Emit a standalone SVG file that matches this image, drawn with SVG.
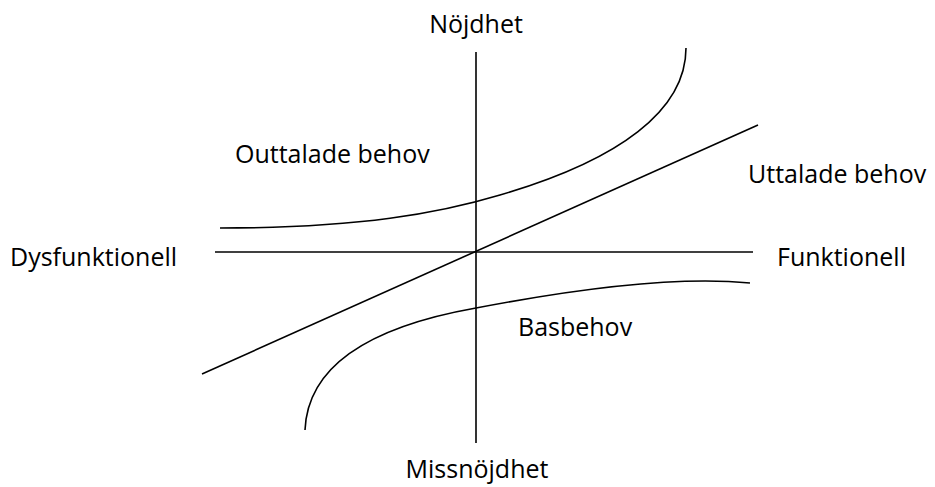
<svg xmlns="http://www.w3.org/2000/svg" width="935" height="487" viewBox="0 0 935 487">
<style>
.ln{fill:none;stroke:#000;stroke-width:1.6}
.t{font-family:"Open Sans","Liberation Sans",Arial,sans-serif;font-size:25px;fill:#000}
</style>
<rect width="935" height="487" fill="#fff"/>
<g id="connectors">
<line class="ln" x1="476" y1="52" x2="476" y2="443"/>
<line class="ln" x1="215" y1="252" x2="753" y2="252"/>
<line class="ln" x1="202" y1="374" x2="758" y2="125"/>
<path class="ln" d="M220,228 C360,228 440,213 500,195 C620,160 686,110 686,48"/>
<path class="ln" d="M305,430 C308,360 380,325 476,308 C580,288 680,276 750,283"/>
</g>
<g id="n-nojdhet"><text class="t" x="476" y="33" text-anchor="middle">Nöjdhet</text></g>
<g id="n-missnojdhet"><text class="t" x="477" y="478" text-anchor="middle">Missnöjdhet</text></g>
<g id="n-dysfunktionell"><text class="t" x="10" y="266">Dysfunktionell</text></g>
<g id="n-funktionell"><text class="t" x="777" y="266">Funktionell</text></g>
<g id="n-outtalade"><text class="t" x="235" y="163">Outtalade behov</text></g>
<g id="n-uttalade"><text class="t" x="748" y="183">Uttalade behov</text></g>
<g id="n-basbehov"><text class="t" x="518" y="336">Basbehov</text></g>
</svg>
